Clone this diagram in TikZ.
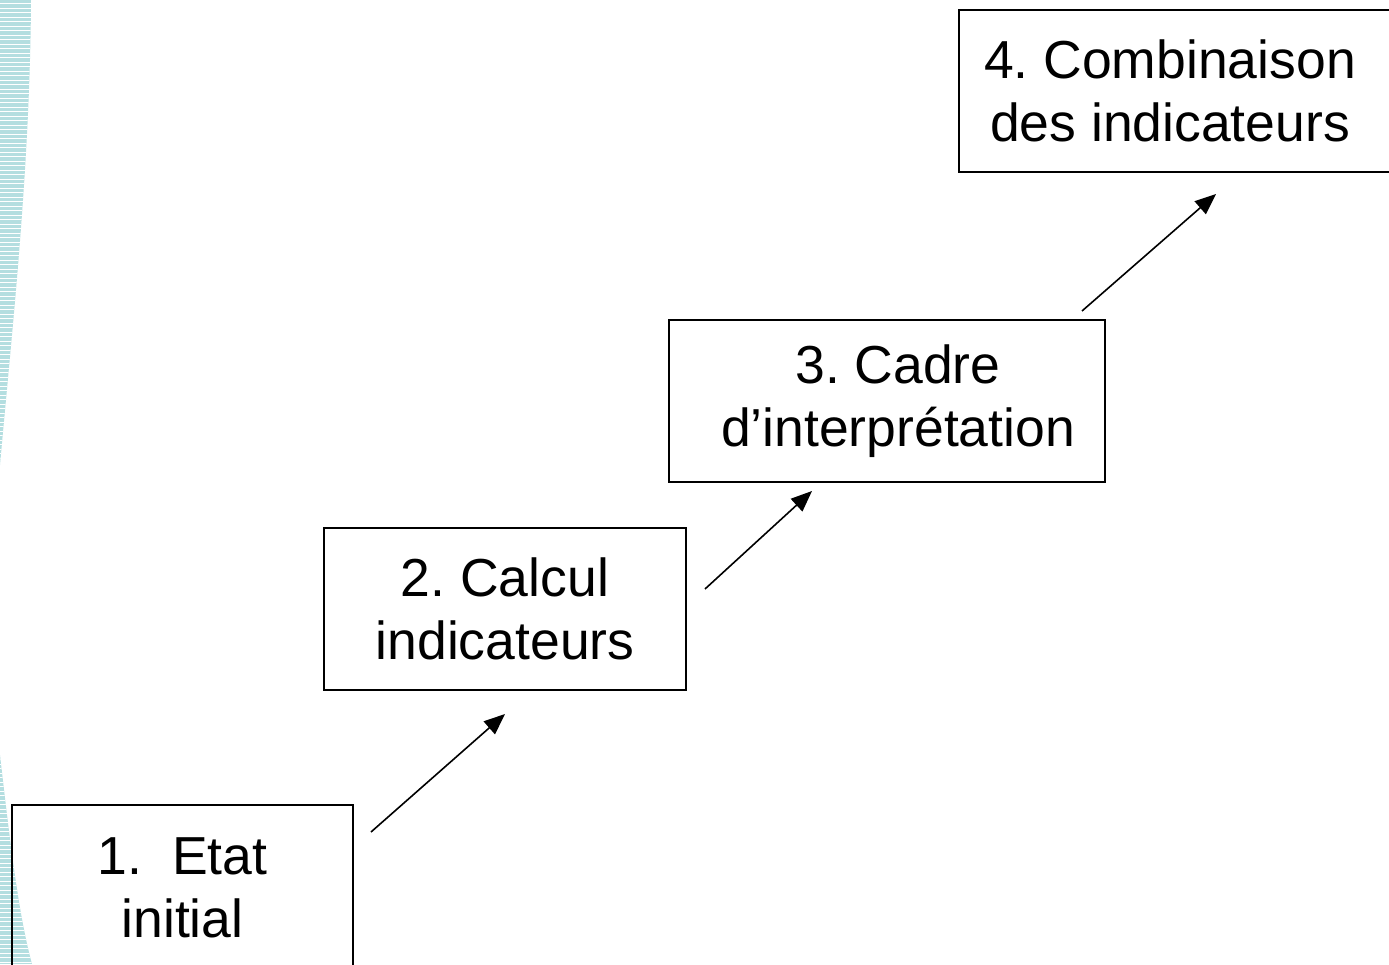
\documentclass[tikz,border=0pt]{standalone}
\usepackage{fontspec}
\setmainfont{Liberation Sans}
\usetikzlibrary{arrows.meta}
\definecolor{stripe}{RGB}{180,222,224}
\frenchspacing

\begin{document}
\begin{tikzpicture}[x=1pt,y=-1pt,>={Triangle[length=21pt,width=17pt]},
                    line width=1.6pt]
  \tikzstyle{stage}=[draw,rectangle,line width=1.6pt,align=center,
                     font=\fontsize{53.5pt}{63pt}\selectfont]
  \useasboundingbox (0,0) rectangle (1389,964);
  \clip (0,0) rectangle (1389,964);

  % striped border on the left
  \begin{scope}
    \clip (0,0) -- (31,0) .. controls (30,170) and (12,330) .. (0,465) -- cycle
          (0,755) .. controls (12,860) and (20,920) .. (32,964) -- (0,964) -- cycle;
    \fill[stripe] (0,0) rectangle (40,964);
    \foreach \y in {3,7.5,...,964}
      \fill[white] (0,\y) rectangle (40,\y+1);
  \end{scope}

  \node[stage,minimum width=341pt,minimum height=166pt] (etat)   at (182.5,888) {1.~~Etat\\initial};
  \node[stage,minimum width=362pt,minimum height=162pt] (calcul) at (505,609)   {2. Calcul\\indicateurs};
  \node[stage,minimum width=436pt,minimum height=162pt] (cadre)  at (887,401)
    {\hspace*{22pt}3. Cadre\\\hspace*{22pt}d’interprétation};
  \node[stage,minimum width=441pt,minimum height=162pt] (combi)  at (1179.5,91)
    {4. Combinaison\hspace*{19pt}\\des indicateurs\hspace*{19pt}};

  \coordinate (s1) at (371,832);  \coordinate (e1) at (505,714);
  \coordinate (s2) at (705,589);  \coordinate (e2) at (812,491);
  \coordinate (s3) at (1082,311); \coordinate (e3) at (1216,194);

  \draw[->] (s1) -- (e1);
  \draw[->] (s2) -- (e2);
  \draw[->] (s3) -- (e3);
\end{tikzpicture}
\end{document}
